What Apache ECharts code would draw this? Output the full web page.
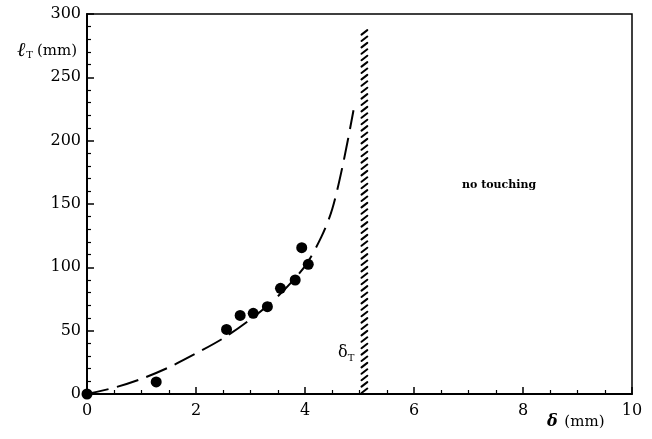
<!DOCTYPE html>
<html>
<head>
<meta charset="utf-8">
<script src="https://cdn.jsdelivr.net/npm/echarts@6/dist/echarts.min.js"></script>
<style>
  html, body { margin: 0; padding: 0; background: #fff; }
  #chart { width: 652px; height: 439px; }
</style>
</head>
<body>
<div id="chart"></div>
<script>
// Measured touching length versus gap
const measuredDelta = [0, 1.27, 2.56, 2.81, 3.05, 3.31, 3.55, 3.82, 3.94, 4.06];
const measuredLength = [0, 9.5, 51, 62, 63.7, 68.9, 83.4, 90, 115.5, 102.4];

// Model curve (dashed)
const curveDelta = [0, 0.5, 1, 1.5, 2, 2.5, 3, 3.5, 4, 4.3, 4.5, 4.7, 4.89];
const curveLength = [0, 5, 12, 21, 32, 44, 59, 77, 101, 124, 146, 182, 224];

// Critical gap band: [from, to, top]
const criticalBand = [[5.0, 5.18, 290]];

const xTicks = [0, 2, 4, 6, 8, 10];
const yTicks = [0, 50, 100, 150, 200, 250, 300];

const serif = 'DejaVu Serif';
const chart = echarts.init(document.getElementById('chart'), null, { renderer: 'canvas' });

const pair = (xs, ys) => xs.map((x, i) => [x, ys[i]]);

chart.setOption({
  animation: false,
  backgroundColor: '#fff',
  grid: {
    left: 87, right: 20, top: 14, bottom: 45,
    show: true, borderColor: '#000', borderWidth: 1.5, backgroundColor: 'transparent'
  },
  xAxis: {
    type: 'value', min: xTicks[0], max: xTicks[xTicks.length - 1], interval: 2,
    axisLine: { onZero: false, lineStyle: { color: '#000', width: 2 } },
    axisTick: { inside: true, length: 7, lineStyle: { color: '#000', width: 1.5 } },
    minorTick: { show: true, splitNumber: 4, length: 4, lineStyle: { color: '#000', width: 1.2 } },
    splitLine: { show: false },
    axisLabel: { color: '#000', fontFamily: serif, fontSize: 16, margin: 9 }
  },
  yAxis: {
    type: 'value', min: yTicks[0], max: yTicks[yTicks.length - 1], interval: 50,
    axisLine: { show: true, onZero: false, lineStyle: { color: '#000', width: 2 } },
    axisTick: { show: true, inside: true, length: 7, lineStyle: { color: '#000', width: 1.5 } },
    minorTick: { show: true, splitNumber: 5, length: 4, lineStyle: { color: '#000', width: 1.2 } },
    splitLine: { show: false },
    axisLabel: { color: '#000', fontFamily: serif, fontSize: 16, margin: 6 }
  },
  graphic: [
    {
      type: 'text', left: 17, top: 41,
      style: {
        text: '{l|ℓ}{s|T}{n|(mm)}',
        rich: {
          l: { fontFamily: serif, fontStyle: 'italic', fontSize: 20, fill: '#000' },
          s: { fontFamily: serif, fontSize: 10, fill: '#000', padding: [9, 4, 0, 1] },
          n: { fontFamily: serif, fontSize: 15, fill: '#000' }
        }
      }
    },
    {
      type: 'text', left: 547, top: 414,
      style: {
        text: '{d|δ}  {n|(mm)}',
        rich: {
          d: { fontFamily: serif, fontStyle: 'italic', fontWeight: 'bold', fontSize: 16, fill: '#000' },
          n: { fontFamily: serif, fontSize: 15, fill: '#000' }
        }
      }
    },
    {
      type: 'text', left: 338, top: 345,
      style: {
        text: '{d|δ}{s|T}',
        rich: {
          d: { fontFamily: serif, fontSize: 16, fill: '#000' },
          s: { fontFamily: serif, fontSize: 10, fill: '#000', padding: [10, 0, 0, 0] }
        }
      }
    },
    {
      type: 'text', left: 462, top: 180,
      style: { text: 'no touching', fontFamily: serif, fontSize: 11, fontWeight: 'bold', fill: '#000' }
    }
  ],
  series: [
    {
      type: 'line',
      data: pair(curveDelta, curveLength),
      smooth: 0.3,
      symbol: 'none',
      lineStyle: { color: '#000', width: 2, type: [22, 9] },
      z: 2
    },
    {
      type: 'scatter',
      data: pair(measuredDelta, measuredLength),
      symbol: 'circle',
      symbolSize: 11,
      clip: false,
      itemStyle: { color: '#000', opacity: 1 },
      z: 3
    },
    {
      type: 'custom',
      data: criticalBand,
      clip: false,
      renderItem: function (params, api) {
        const p0 = api.coord([api.value(0), 0]);
        const p1 = api.coord([api.value(1), api.value(2)]);
        const left = p0[0], right = p1[0], bottom = p0[1], top = p1[1];
        const step = 6.4;
        const rise = 4.5;
        const children = [];
        for (let y = bottom - 1; y - rise >= top - 0.5; y -= step) {
          children.push({
            type: 'line',
            shape: { x1: left + 2, y1: y, x2: right - 2, y2: y - rise },
            style: { stroke: '#000', lineWidth: 2, lineCap: 'round' }
          });
        }
        return { type: 'group', children: children };
      },
      z: 2
    }
  ]
});
</script>
</body>
</html>
